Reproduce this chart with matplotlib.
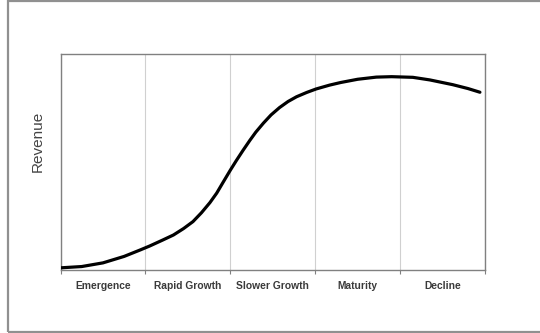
import numpy as np
import matplotlib.pyplot as plt
from matplotlib.patches import Rectangle

plt.rcParams.update({'font.family': 'Liberation Sans', 'font.size': 7})

stages = ['Emergence', 'Rapid Growth', 'Slower Growth', 'Maturity', 'Decline']
# revenue curve, x in stage units
curve_x = [0.0, 0.25, 0.5, 0.75, 0.94, 1.05, 1.2, 1.33, 1.45, 1.56, 1.66, 1.76,
           1.84, 1.915, 2.0, 2.07, 2.15, 2.23, 2.3, 2.39, 2.48, 2.58, 2.68, 2.78,
           2.9, 3.01, 3.17, 3.3, 3.5, 3.72, 3.9, 4.15, 4.35, 4.62, 4.8, 4.94]
revenue = [1.0, 1.6, 3.3, 6.3, 9.3, 11.1, 13.8, 16.2, 19.2, 22.4, 26.5, 31.2,
           35.6, 40.6, 46.2, 50.6, 55.4, 60.0, 63.8, 68.0, 71.8, 75.2, 78.0, 80.2,
           82.2, 83.8, 85.6, 86.8, 88.3, 89.3, 89.5, 89.2, 88.0, 85.8, 84.0, 82.3]

fig = plt.figure(figsize=(5.4, 3.33), dpi=100)
axis = fig.add_axes([60.5 / 540, 1 - 270 / 333, (485 - 60.5) / 540, 216 / 333])

axis.plot(curve_x, revenue, color='black', linewidth=2.3, solid_capstyle='round',
	solid_joinstyle='round', zorder=3)
axis.set_xlim(0, len(stages))
axis.set_ylim(0, 100)

axis.set_xticks(np.arange(len(stages) + 1))
axis.set_xticklabels([])
axis.set_xticks(np.arange(len(stages)) + 0.5, minor=True)
axis.set_xticklabels(stages, minor=True, fontweight='bold', color='#3a3a3a', fontsize=7.4)
axis.tick_params(axis='x', which='major', length=3, width=0.8, color='#808080', direction='out')
axis.tick_params(axis='x', which='minor', length=0, pad=8)
axis.set_yticks([])
axis.grid(axis='x', which='major', color='#d0d0d0', linewidth=0.8)
for spine in axis.spines.values():
	spine.set_color('#808080')
	spine.set_linewidth(1.0)

fig.text(38 / 540, 1 - 141 / 333, 'Revenue', rotation=90, ha='center', va='center',
	fontsize=11, color='#444444')

fig.patches.append(Rectangle((8 / 540, 1 / 333), 1.1, 331 / 333, transform=fig.transFigure,
	fill=False, edgecolor='#909090', linewidth=1.6))

fig.savefig('out.png', dpi=100)
